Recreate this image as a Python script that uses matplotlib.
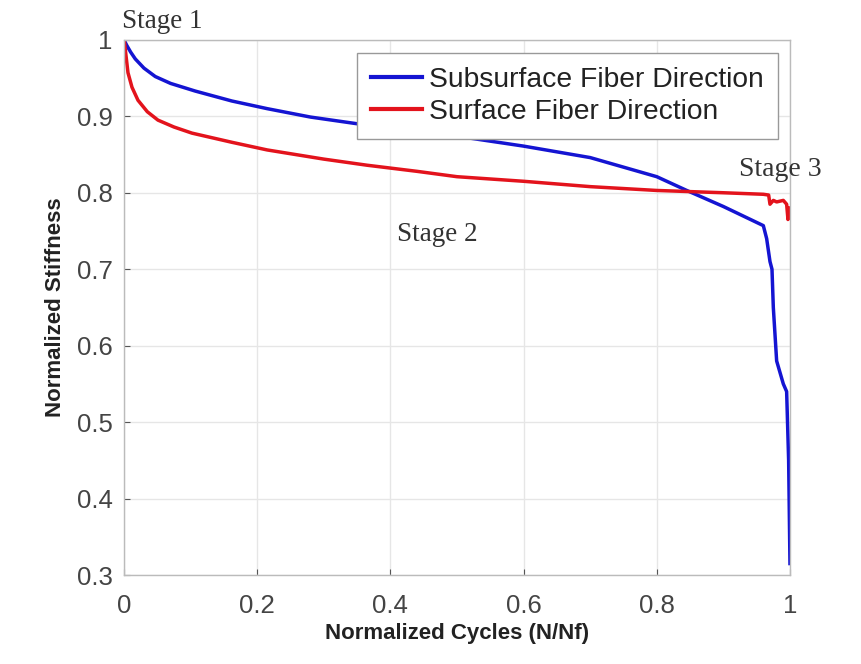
import matplotlib
matplotlib.use("Agg")
import matplotlib.pyplot as plt

# Data
sub_x = [0, 0.004, 0.01, 0.017, 0.03, 0.047, 0.07, 0.107, 0.162, 0.215, 0.28, 0.344, 0.4, 0.5, 0.6,
         0.7, 0.8, 0.845, 0.9, 0.96, 0.965, 0.97, 0.973, 0.975, 0.98, 0.99, 0.995, 0.998, 1.0]
sub_y = [1.0, 0.993, 0.984, 0.975, 0.963, 0.952, 0.943, 0.933, 0.92, 0.91, 0.899, 0.891, 0.884, 0.874, 0.861,
         0.846, 0.821, 0.803, 0.782, 0.757, 0.74, 0.71, 0.70, 0.65, 0.58, 0.55, 0.54, 0.45, 0.315]

surf_x = [0, 0.001, 0.002, 0.006, 0.012, 0.021, 0.035, 0.051, 0.075, 0.102, 0.162, 0.215, 0.3, 0.365, 0.44,
          0.5, 0.6, 0.7, 0.8, 0.9, 0.96, 0.968, 0.97, 0.975, 0.98, 0.99, 0.995, 0.997, 1.0]
surf_y = [1.0, 0.995, 0.987, 0.957, 0.938, 0.921, 0.906, 0.895, 0.886, 0.878, 0.866, 0.856, 0.844, 0.836, 0.828,
          0.821, 0.815, 0.808, 0.803, 0.800, 0.798, 0.797, 0.785, 0.79, 0.788, 0.79, 0.785, 0.765, 0.78]

series_labels = ["Subsurface Fiber Direction", "Surface Fiber Direction"]
x_ticks = [0, 0.2, 0.4, 0.6, 0.8, 1]
x_tick_labels = ["0", "0.2", "0.4", "0.6", "0.8", "1"]
y_ticks = [0.3, 0.4, 0.5, 0.6, 0.7, 0.8, 0.9, 1]
y_tick_labels = ["0.3", "0.4", "0.5", "0.6", "0.7", "0.8", "0.9", "1"]

plt.rcParams['font.family'] = ['Liberation Sans', 'DejaVu Sans']

fig = plt.figure(figsize=(8.61, 6.64), dpi=100)
ax = fig.add_axes([0.144, 0.134, 0.7735, 0.806])

ax.plot(sub_x, sub_y, color='#1414d2', lw=2.5, label=series_labels[0], solid_joinstyle='round')
ax.plot(surf_x, surf_y, color='#e3131c', lw=2.5, label=series_labels[1], solid_joinstyle='round')

ax.set_xlim(0, 1)
ax.set_ylim(0.3, 1)
ax.set_xticks(x_ticks)
ax.set_xticklabels(x_tick_labels)
ax.set_yticks(y_ticks)
ax.set_yticklabels(y_tick_labels)
ax.tick_params(direction='in', length=4, colors='#555555', labelcolor='#444444',
               labelsize=18.5, pad=8)
ax.tick_params(axis='x', pad=14)
ax.grid(True, color='#e6e6e6', lw=1)
ax.set_axisbelow(True)
for s in ax.spines.values():
    s.set_color('#bbbbbb')
    s.set_linewidth(1)

ax.set_xlabel("Normalized Cycles (N/Nf)", fontsize=16, fontweight='bold', color='#222222', labelpad=3)
ax.set_ylabel("Normalized Stiffness", fontsize=16, fontweight='bold', color='#222222', labelpad=8)

leg = ax.legend(loc='upper left', bbox_to_anchor=(0.35, 0.9757), fontsize=20.3,
                frameon=True, fancybox=False, framealpha=1.0, handlelength=1.8, borderpad=0.5,
                borderaxespad=0, labelspacing=0.2, handletextpad=0.25)
leg.get_frame().set_edgecolor('#999999')
leg.get_frame().set_linewidth(1)
for t in leg.get_texts():
    t.set_color('#222222')
for h in leg.get_lines():
    h.set_linewidth(3)

serif = ['Liberation Serif', 'DejaVu Serif']
ax.text(-0.003, 1.008, "Stage 1", family=serif, fontsize=19.5, color='#333333',
        ha='left', va='bottom', clip_on=False)
ax.text(0.47, 0.745, "Stage 2", family=serif, fontsize=19.5, color='#333333',
        ha='center', va='center')
ax.text(0.985, 0.831, "Stage 3", family=serif, fontsize=20, color='#333333',
        ha='center', va='center', clip_on=False)

fig.savefig("out.png", dpi=100)
